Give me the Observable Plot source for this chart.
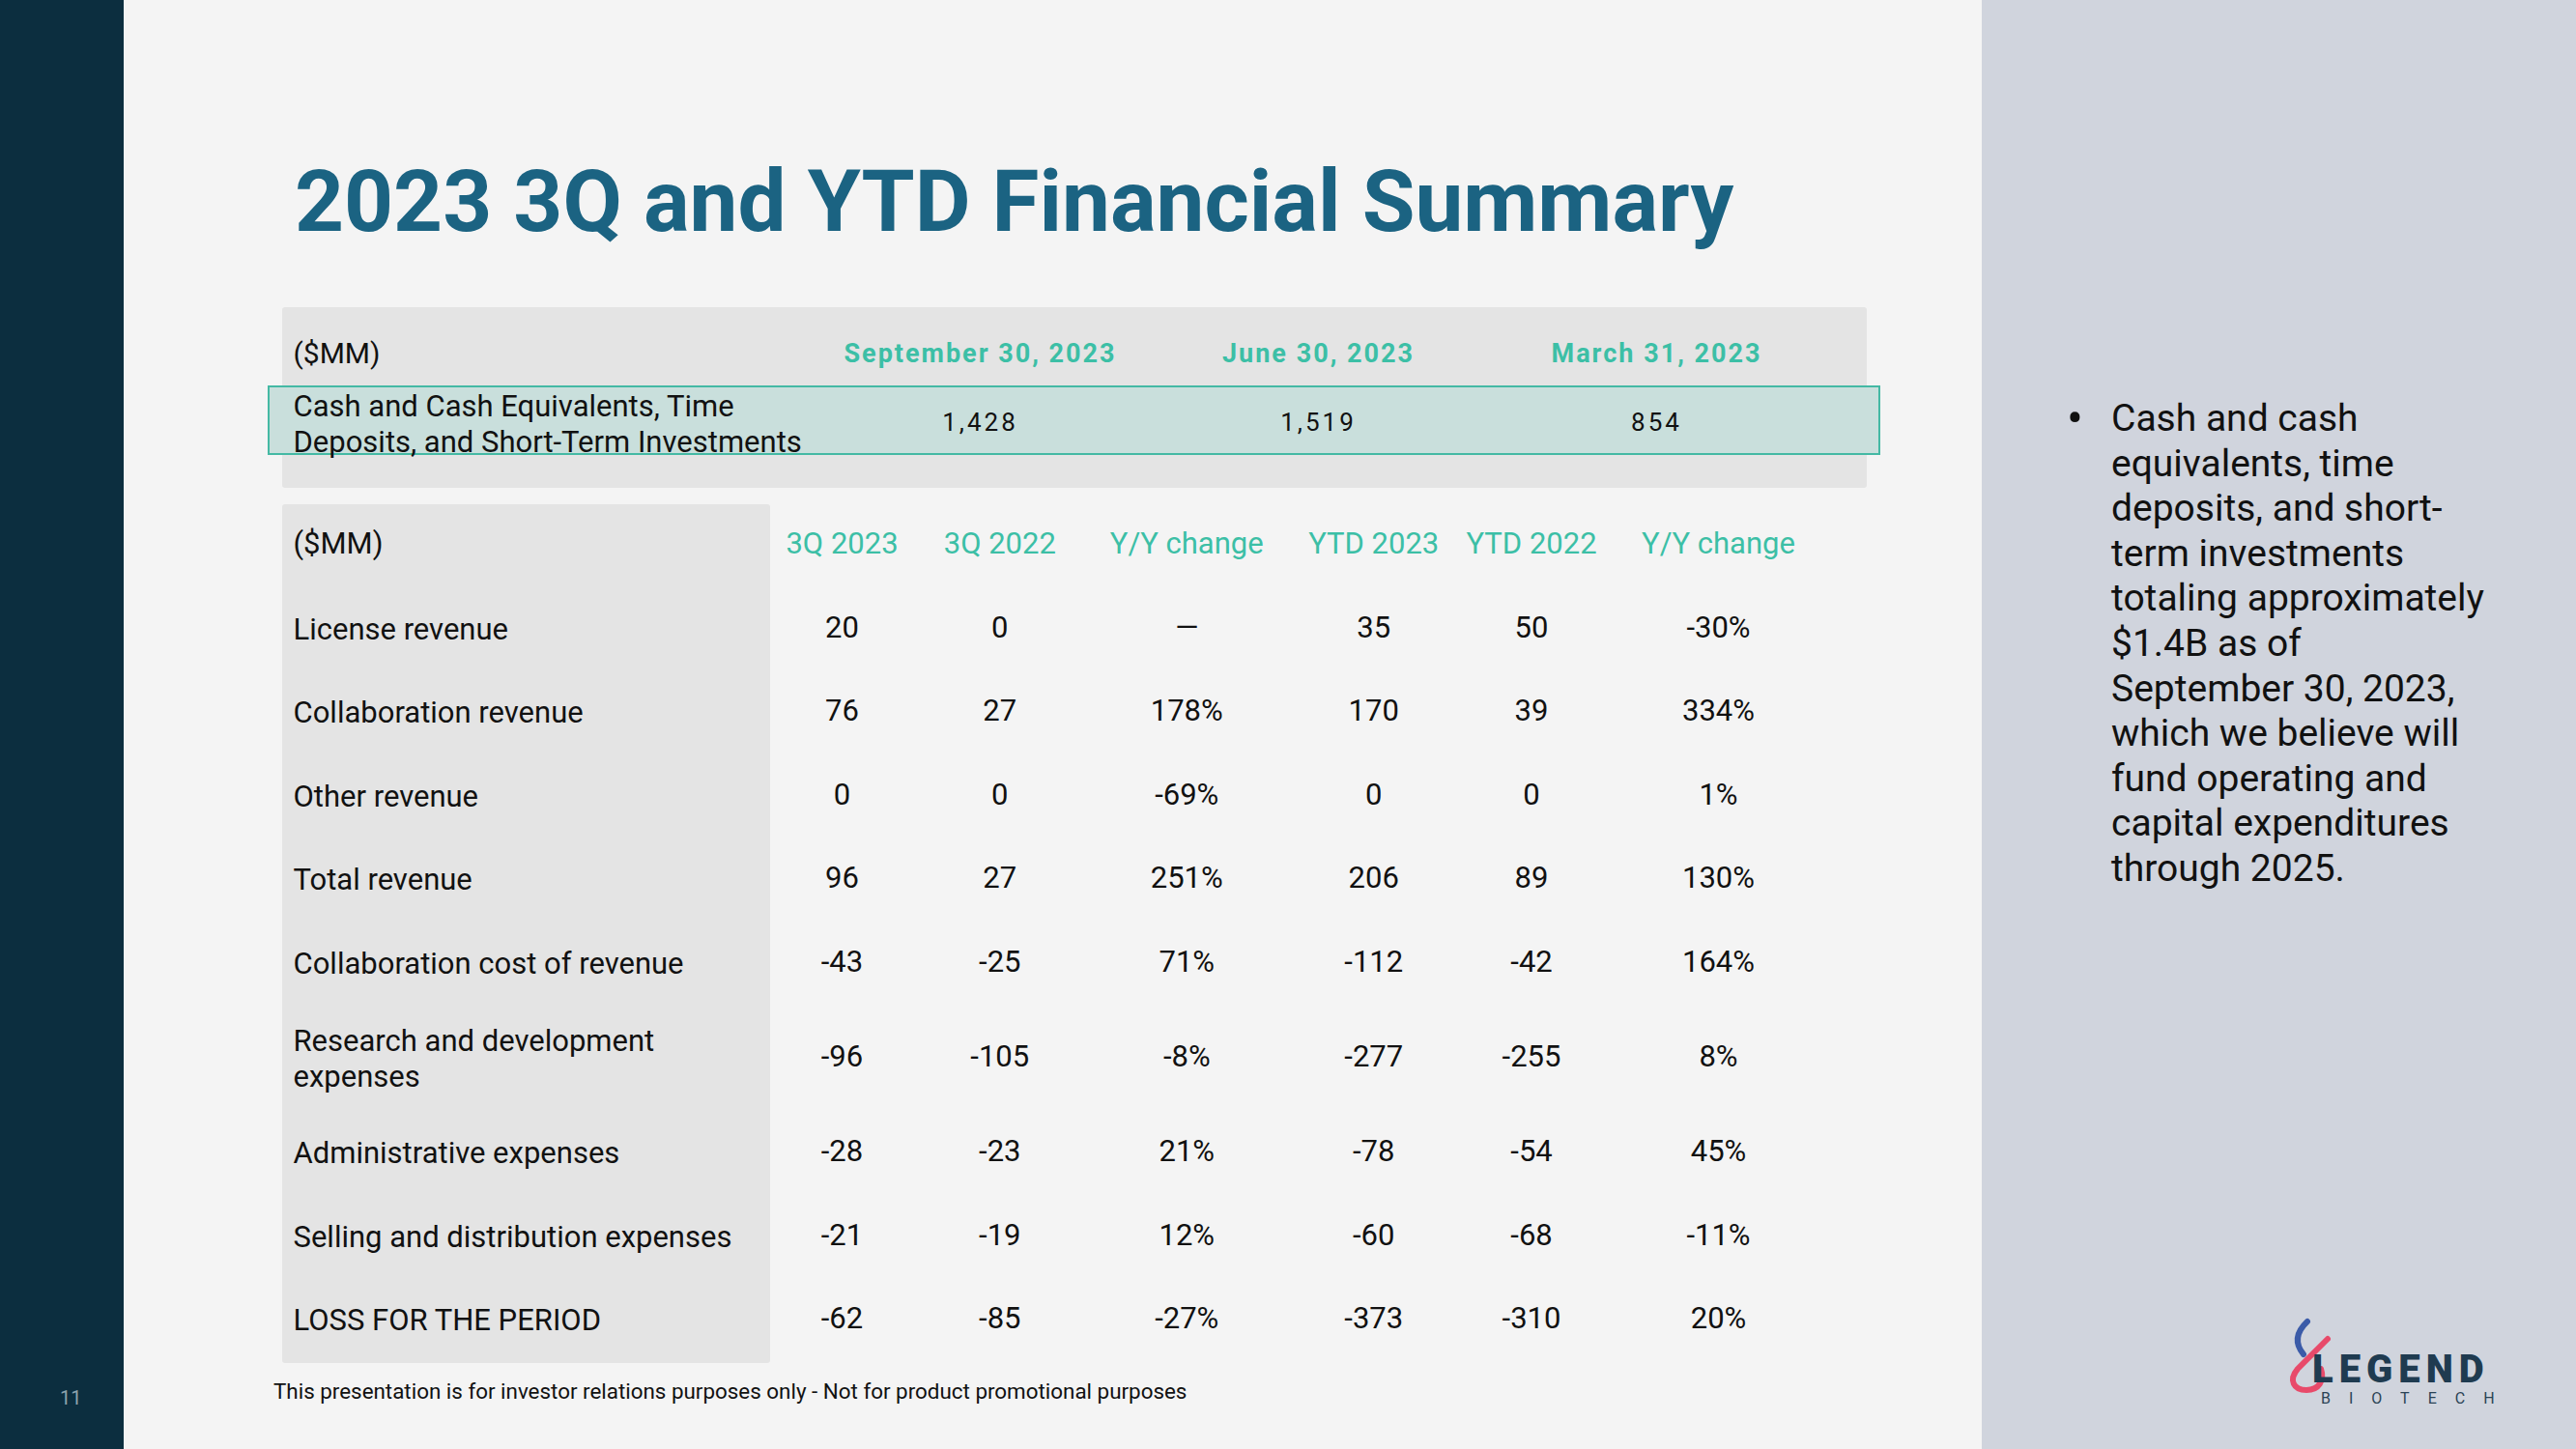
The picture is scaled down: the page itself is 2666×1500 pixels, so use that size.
<!DOCTYPE html>
<html>
<head>
<meta charset="utf-8">
<script src="https://cdn.jsdelivr.net/npm/d3@7"></script>
<script src="https://cdn.jsdelivr.net/npm/@observablehq/plot@0.6"></script>
<style>
  html, body { margin: 0; padding: 0; }
  body { width: 2666px; height: 1500px; position: relative; overflow: hidden; background: #f4f4f4; font-family: Roboto, "Noto Sans", sans-serif; }
  .abs { position: absolute; }
  #leftbar { left: 0; top: 0; width: 128px; height: 1500px; background: #0c2e3f; }
  #rightpanel { left: 2051px; top: 0; width: 615px; height: 1500px; background: #d0d4dd; }
  #title { left: 305px; top: 164px; font-size: 89px; font-weight: 700; color: #1b6382; white-space: nowrap; line-height: 1; }
  #topbox { left: 292px; top: 318px; width: 1640px; height: 187px; background: #e4e4e4; border-radius: 3px; }
  #highlight { left: 277px; top: 399px; width: 1665px; height: 68px; background: #c9dfdc; border: 2px solid #44b9a4; }
  #labelcol { left: 292px; top: 522px; width: 505px; height: 889px; background: #e4e4e4; border-radius: 3px; }
  #plot1 { left: 0; top: 300px; }
  #plot2 { left: 0; top: 500px; }
  #plot1 .hdr text { letter-spacing: 2px; }
  #plot1 .val text { letter-spacing: 3px; }
  #bullet { left: 2134px; top: 410px; font-size: 39px; line-height: 46.6px; color: #111; }
  #bullet .dot { position: absolute; left: 5px; top: 0; font-size: 50px; line-height: 46.6px; }
  #bullet .txt { position: absolute; left: 51px; top: 0; white-space: nowrap; }
  #footer { left: 283px; top: 1427px; font-size: 22.4px; color: #111; white-space: nowrap; }
  #pagenum { left: 62px; top: 1435px; font-size: 20px; color: #8ea3ad; }
  #legend { left: 2393px; top: 1398px; font-size: 40px; font-weight: 900; color: #1f3b50; letter-spacing: 6px; line-height: 1; }
  #biotech { left: 2402px; top: 1440px; font-size: 16px; color: #2a4355; letter-spacing: 19px; line-height: 1; }
  #logoicon { left: 2362px; top: 1355px; }
</style>
</head>
<body>
<div id="leftbar" class="abs"></div>
<div id="rightpanel" class="abs"></div>
<div id="title" class="abs">2023 3Q and YTD Financial Summary</div>
<div id="topbox" class="abs"></div>
<div id="highlight" class="abs"></div>
<div id="labelcol" class="abs"></div>
<div id="plot1" class="abs"></div>
<div id="plot2" class="abs"></div>
<div id="bullet" class="abs"><span class="dot">•</span><div class="txt">Cash and cash<br>equivalents, time<br>deposits, and short-<br>term investments<br>totaling approximately<br>$1.4B as of<br>September 30, 2023,<br>which we believe will<br>fund operating and<br>capital expenditures<br>through 2025.</div></div>
<div id="footer" class="abs">This presentation is for investor relations purposes only - Not for product promotional purposes</div>
<div id="pagenum" class="abs">11</div>
<svg id="logoicon" class="abs" width="60" height="95" viewBox="0 0 60 95">
  <path d="M26 13 Q8 30 22 47" fill="none" stroke="#3b5ba8" stroke-width="6" stroke-linecap="round"/>
  <path d="M47 31 L16 62 C6 74 12 84 25 84 C38 84 44 74 40 62" fill="none" stroke="#e84a6a" stroke-width="6" stroke-linecap="round"/>
</svg>
<div id="legend" class="abs">LEGEND</div>
<div id="biotech" class="abs">BIOTECH</div>

<script>
// ---------- Data ----------
const cashHeaderLabel = "($MM)";
const cashDates = ["September 30, 2023", "June 30, 2023", "March 31, 2023"];
const cashRowLabel = "Cash and Cash Equivalents, Time\nDeposits, and Short-Term Investments";
const cashValues = [1428, 1519, 854];

const tableHeaderLabel = "($MM)";
const columns = ["3Q 2023", "3Q 2022", "Y/Y change (3Q)", "YTD 2023", "YTD 2022", "Y/Y change (YTD)"];
const columnTitles = ["3Q 2023", "3Q 2022", "Y/Y change", "YTD 2023", "YTD 2022", "Y/Y change"];
const columnKinds = ["value", "value", "change", "value", "value", "change"];
const rowLabels = [
  "License revenue",
  "Collaboration revenue",
  "Other revenue",
  "Total revenue",
  "Collaboration cost of revenue",
  "Research and development\nexpenses",
  "Administrative expenses",
  "Selling and distribution expenses",
  "LOSS FOR THE PERIOD"
];
const q3_2023 = [20, 76, 0, 96, -43, -96, -28, -21, -62];
const q3_2022 = [0, 27, 0, 27, -25, -105, -23, -19, -85];
const yoyQ = [null, 178, -69, 251, 71, -8, 21, 12, -27];
const ytd2023 = [35, 170, 0, 206, -112, -277, -78, -60, -373];
const ytd2022 = [50, 39, 0, 89, -42, -255, -54, -68, -310];
const yoyYtd = [-30, 334, 1, 130, 164, 8, 45, -11, 20];

// ---------- Layout helpers (table grid from column kinds / label line counts) ----------
const colWeight = k => k === "change" ? 1.37 : 1;
const rowWeight = label => label.split("\n").length > 1 ? 1.275 : 1;
function centers(weights) {
  let acc = 0;
  return weights.map(w => { const c = acc + w / 2; acc += w; return c; });
}
const colCenterArr = centers(columnKinds.map(colWeight));
const colCenter = new Map(columns.map((c, j) => [c, colCenterArr[j]]));
const bottomRows = [tableHeaderLabel + " header", ...rowLabels];
const rowCenterArr = centers(bottomRows.map(rowWeight));
const rowCenter = new Map(bottomRows.map((r, i) => [r, rowCenterArr[i]]));

// ---------- Tables built from the arrays ----------
const fmtNum = v => String(v);
const fmtPct = v => v == null ? "—" : `${v}%`;
const series = [
  {values: q3_2023, fmt: fmtNum},
  {values: q3_2022, fmt: fmtNum},
  {values: yoyQ, fmt: fmtPct},
  {values: ytd2023, fmt: fmtNum},
  {values: ytd2022, fmt: fmtNum},
  {values: yoyYtd, fmt: fmtPct}
];
const cells = rowLabels.flatMap((row, i) =>
  columns.map((col, j) => ({row, col, text: series[j].fmt(series[j].values[i])}))
);
const headers = columns.map((col, j) => ({col, text: columnTitles[j]}));
const cashCells = cashDates.map((date, j) => ({date, value: cashValues[j]}));

const teal = "#3cbfa6";
const font = "Roboto, 'Noto Sans', sans-serif";

// ---------- Top table ----------
const topRows = ["header", cashRowLabel];
const plot1 = Plot.plot({
  width: 2051,
  height: 200,
  margin: 0,
  marginLeft: 303,
  style: {background: "transparent", fontFamily: font, color: "#111", overflow: "visible"},
  x: {type: "point", domain: cashDates, range: [1013, 1714], padding: 0, axis: null},
  y: {type: "point", domain: topRows, range: [66, 137], padding: 0, axis: null},
  marks: [
    Plot.text([cashHeaderLabel], {y: () => "header", text: d => d, frameAnchor: "left", textAnchor: "start", fontSize: 30, fill: "#111"}),
    Plot.text(cashDates, {x: d => d, y: () => "header", text: d => d, fontSize: 27, fontWeight: "bold", fill: teal, className: "hdr"}),
    Plot.text([cashRowLabel], {y: d => d, text: d => d, frameAnchor: "left", textAnchor: "start", fontSize: 31, lineHeight: 1.2, fill: "#111"}),
    Plot.text(cashCells, {x: "date", y: () => cashRowLabel, text: d => d3.format(",")(d.value), fontSize: 26, fill: "#111", className: "val"})
  ]
});
document.getElementById("plot1").append(plot1);

// ---------- Bottom table ----------
const firstCol = colCenterArr[0], lastCol = colCenterArr[colCenterArr.length - 1];
const firstRow = rowCenterArr[0], lastRow = rowCenterArr[rowCenterArr.length - 1];
const plot2 = Plot.plot({
  width: 2051,
  height: 930,
  margin: 0,
  marginLeft: 303,
  style: {background: "transparent", fontFamily: font, color: "#111", overflow: "visible"},
  x: {type: "linear", domain: [firstCol, lastCol], range: [871, 1778], axis: null},
  y: {type: "linear", domain: [firstRow, lastRow], range: [63, 865], axis: null},
  marks: [
    Plot.text([tableHeaderLabel], {y: () => firstRow, text: d => d, frameAnchor: "left", textAnchor: "start", fontSize: 31, fill: "#111"}),
    Plot.text(headers, {x: d => colCenter.get(d.col), y: () => firstRow, text: "text", fontSize: 31, fill: teal}),
    Plot.text(rowLabels, {y: d => rowCenter.get(d), text: d => d, frameAnchor: "left", textAnchor: "start", fontSize: 31, lineHeight: 1.2, fill: "#111"}),
    Plot.text(cells, {x: d => colCenter.get(d.col), y: d => rowCenter.get(d.row), text: "text", fontSize: 31, fill: "#111"})
  ]
});
document.getElementById("plot2").append(plot2);
</script>
</body>
</html>
